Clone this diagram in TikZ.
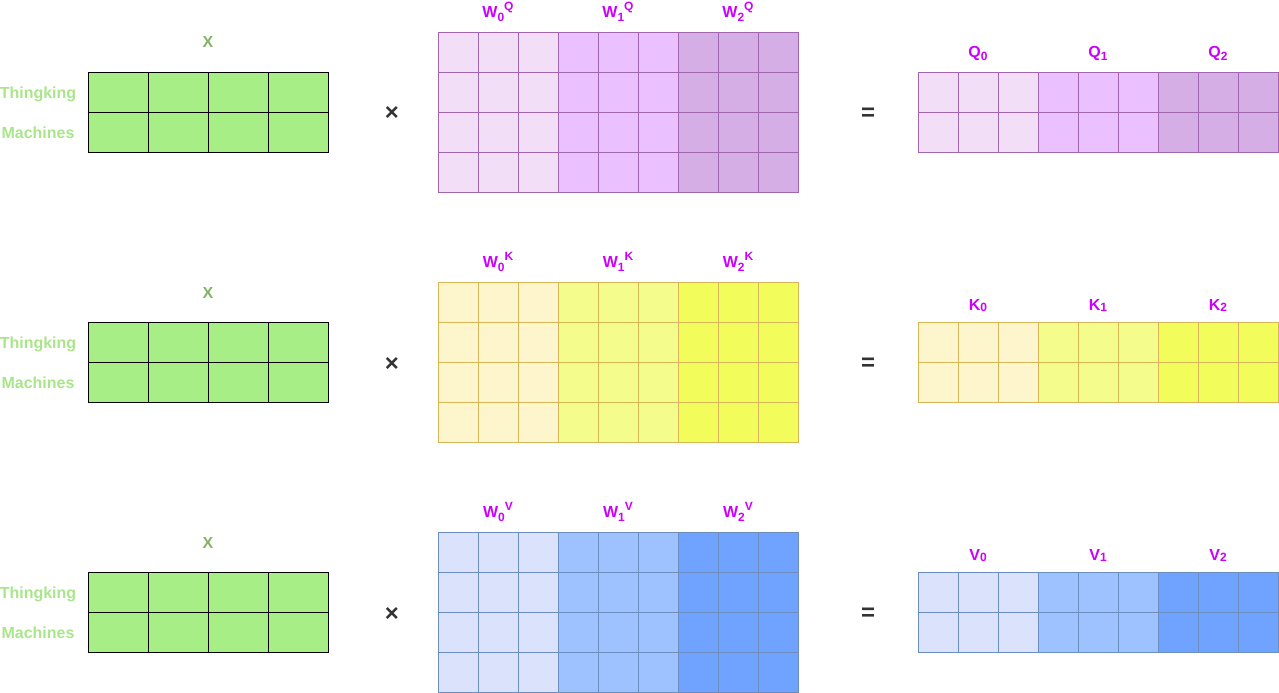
\documentclass[tikz,border=0pt]{standalone}
\usepackage{fontspec}
\setmainfont{Liberation Sans}
\definecolor{xgreen}{HTML}{A7EE86}
\definecolor{xlab}{HTML}{82B366}
\definecolor{rowlab}{HTML}{A9E58A}
\definecolor{labpurple}{HTML}{CC00FF}
\definecolor{opgray}{HTML}{333333}
\definecolor{qa}{HTML}{F2DFF7}
\definecolor{qb}{HTML}{EBC0FF}
\definecolor{qc}{HTML}{D5AEE6}
\definecolor{qs}{HTML}{A066B0}
\definecolor{ka}{HTML}{FDF5CB}
\definecolor{kb}{HTML}{F4FC8C}
\definecolor{kc}{HTML}{F2FC5A}
\definecolor{ks}{HTML}{D6B656}
\definecolor{va}{HTML}{DAE3FB}
\definecolor{vb}{HTML}{9EC2FF}
\definecolor{vc}{HTML}{70A2FF}
\definecolor{vs}{HTML}{6C8EBF}
\newcommand\mysub[1]{\raisebox{-0.45ex}{\fontsize{12}{12}\selectfont #1}}
\newcommand\mysup[1]{\raisebox{0.8ex}{\fontsize{12}{12}\selectfont #1}}
\newcommand\mylow[1]{\raisebox{-0.15ex}{\fontsize{12}{12}\selectfont #1}}
\tikzset{
  lab/.style={font=\fontsize{16}{19}\selectfont\bfseries, text=labpurple, anchor=base, inner sep=0pt},
  xl/.style={font=\fontsize{16}{19}\selectfont\bfseries, text=xlab, anchor=base, inner sep=0pt},
  rl/.style={font=\fontsize{16}{19}\selectfont\bfseries, text=rowlab, anchor=base, inner sep=0pt},
  op/.style={font=\fontsize{24}{24}\selectfont\bfseries, text=opgray, inner sep=0pt},
  xcell/.style={draw=black, fill=xgreen, line width=1pt}
}
\begin{document}
\begin{tikzpicture}[x=1pt,y=-1pt]
\useasboundingbox (0,0) rectangle (1279,693);
\foreach \r/\dy/\A/\B/\C/\S/\M in {0/0/qa/qb/qc/qs/Q,1/250/ka/kb/kc/ks/K,2/500/va/vb/vc/vs/V}{
  % X matrix
  \foreach \i in {0,...,3}{
    \foreach \j in {0,1}{
      \draw[xcell] (88+60*\i,72+\dy+40*\j) rectangle ++(60,40);
    }
  }
  \node[xl] (xlab\r) at (208,48+\dy) {X};
  \node[rl] (think\r) at (38,98.5+\dy) {Thingking};
  \node[rl] (mach\r) at (38,138.5+\dy) {Machines};
  \node[op] (times\r) at (392,114+\dy) {×};
  \node[op] (eq\r) at (868,114+\dy) {=};
  % W matrix and output
  \foreach \g/\F in {0/\A,1/\B,2/\C}{
    \foreach \k in {0,1,2}{
      \foreach \j in {0,...,3}{
        \draw[draw=\S, fill=\F, line width=0.8pt] (438+120*\g+40*\k,32+\dy+40*\j) rectangle ++(40,40);
      }
      \foreach \j in {0,1}{
        \draw[draw=\S, fill=\F, line width=0.8pt] (918+120*\g+40*\k,72+\dy+40*\j) rectangle ++(40,40);
      }
    }
    \node[lab] (w\r\g) at (498+120*\g,17.5+\dy) {W\mysub{\g}\mysup{\M}};
  }
}
\node[lab] (q0) at (978,57) {Q\mysub{0}};
\node[lab] (q1) at (1098,57) {Q\mysub{1}};
\node[lab] (q2) at (1218,57) {Q\mysub{2}};
\node[lab] (k0) at (978,310) {K\mylow{0}};
\node[lab] (k1) at (1098,310) {K\mylow{1}};
\node[lab] (k2) at (1218,310) {K\mylow{2}};
\node[lab] (v0) at (978,560) {V\mylow{0}};
\node[lab] (v1) at (1098,560) {V\mylow{1}};
\node[lab] (v2) at (1218,560) {V\mylow{2}};
\end{tikzpicture}
\end{document}
